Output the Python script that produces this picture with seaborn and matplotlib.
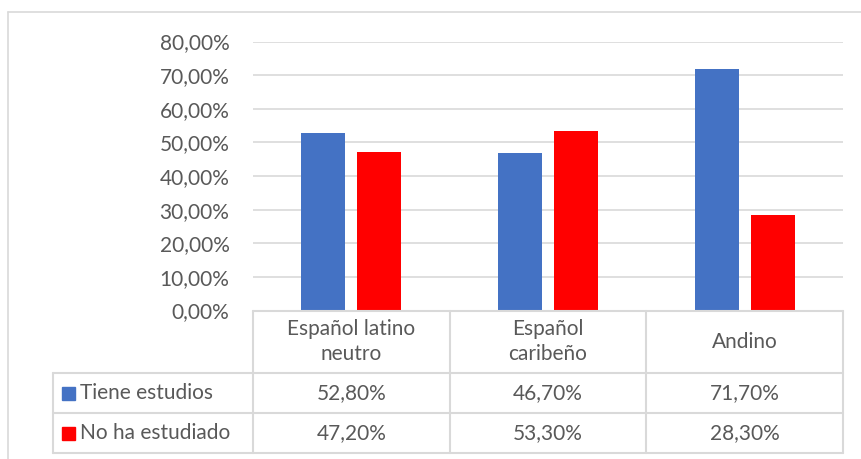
import matplotlib
matplotlib.use("Agg")
import matplotlib.pyplot as plt
from matplotlib.lines import Line2D
from matplotlib.patches import Rectangle
import seaborn as sns
import pandas as pd

categories = ["Español latino\nneutro", "Español\ncaribeño", "Andino"]
series_names = ["Tiene estudios", "No ha estudiado"]
tiene_estudios = [0.528, 0.467, 0.717]
no_ha_estudiado = [0.472, 0.533, 0.283]
y_ticks = [0.0, 0.1, 0.2, 0.3, 0.4, 0.5, 0.6, 0.7, 0.8]
colors = ["#4472C4", "#FF0000"]

df = pd.DataFrame({
    "categoria": categories * 2,
    "serie": [series_names[0]] * 3 + [series_names[1]] * 3,
    "valor": tiene_estudios + no_ha_estudiado,
})

sns.set_style("white")
plt.rcParams["font.family"] = ["Lato", "DejaVu Sans"]
TXT = "#595959"
GRID = "#D9D9D9"
FS = 15

W, H = 861, 459
fig = plt.figure(figsize=(W / 100, H / 100), dpi=100)

def fx(px):
    return px / W

def fy(py):
    return 1 - py / H

x0, x1 = 253, 843
y_top, y_zero = 41.5, 310.5
ax = fig.add_axes([fx(x0), fy(y_zero), fx(x1) - fx(x0), (y_zero - y_top) / H])

sns.barplot(data=df, x="categoria", y="valor", hue="serie", palette=colors,
            width=0.57, gap=0.215, dodge=True, ax=ax, legend=False,
            saturation=1, linewidth=0)

ax.set_xlim(-0.5, 2.5)
ax.set_ylim(0, 0.8)
ax.set_yticks(y_ticks)
ax.set_yticklabels([f"{v * 100:.2f}%".replace(".", ",") for v in y_ticks],
                   fontsize=FS, color=TXT)
ax.tick_params(axis="y", length=0, pad=17)
ax.set_xticks([])
ax.set_xlabel("")
ax.set_ylabel("")
for s in ax.spines.values():
    s.set_visible(False)
ax.yaxis.grid(True, color=GRID, linewidth=1.2)
ax.set_axisbelow(True)

# outer chart frame
fig.add_artist(Line2D([fx(8), fx(870)], [fy(12), fy(12)], color=GRID, lw=1.2))
fig.add_artist(Line2D([fx(8), fx(8)], [fy(12), fy(470)], color=GRID, lw=1.2))

# data table below the plot
col_edges = [x0 + i * (x1 - x0) / 3 for i in range(4)]
row_head_top, row1_top, row2_top, table_bottom = 310.5, 373, 413, 453
label_left = 53

def hline(xa, xb, y):
    fig.add_artist(Line2D([fx(xa), fx(xb)], [fy(y), fy(y)], color=GRID, lw=1.5))

def vline(x, ya, yb):
    fig.add_artist(Line2D([fx(x), fx(x)], [fy(ya), fy(yb)], color=GRID, lw=1.5))

hline(x0, x1, row_head_top)
hline(label_left, x1, row1_top)
hline(label_left, x1, row2_top)
hline(label_left, x1, table_bottom)
for xe in col_edges:
    vline(xe, row_head_top, table_bottom)
vline(label_left, row1_top, table_bottom)

for i, cat in enumerate(categories):
    cx = (col_edges[i] + col_edges[i + 1]) / 2
    fig.text(fx(cx), fy((row_head_top + row1_top) / 2), cat, ha="center",
             va="center", fontsize=FS, color=TXT, linespacing=1.3)

rows = [(tiene_estudios, row1_top, row2_top), (no_ha_estudiado, row2_top, table_bottom)]
for k, (vals, ya, yb) in enumerate(rows):
    cy = (ya + yb) / 2
    fig.add_artist(Rectangle((fx(62), fy(cy + 6.5)), 13 / W, 13 / H,
                             color=colors[k], transform=fig.transFigure))
    fig.text(fx(80), fy(cy), series_names[k], ha="left", va="center",
             fontsize=FS, color=TXT)
    for i, v in enumerate(vals):
        cx = (col_edges[i] + col_edges[i + 1]) / 2
        fig.text(fx(cx), fy(cy), f"{v * 100:.2f}%".replace(".", ","),
                 ha="center", va="center", fontsize=FS, color=TXT)

fig.savefig("out.png", dpi=100, facecolor="white")
